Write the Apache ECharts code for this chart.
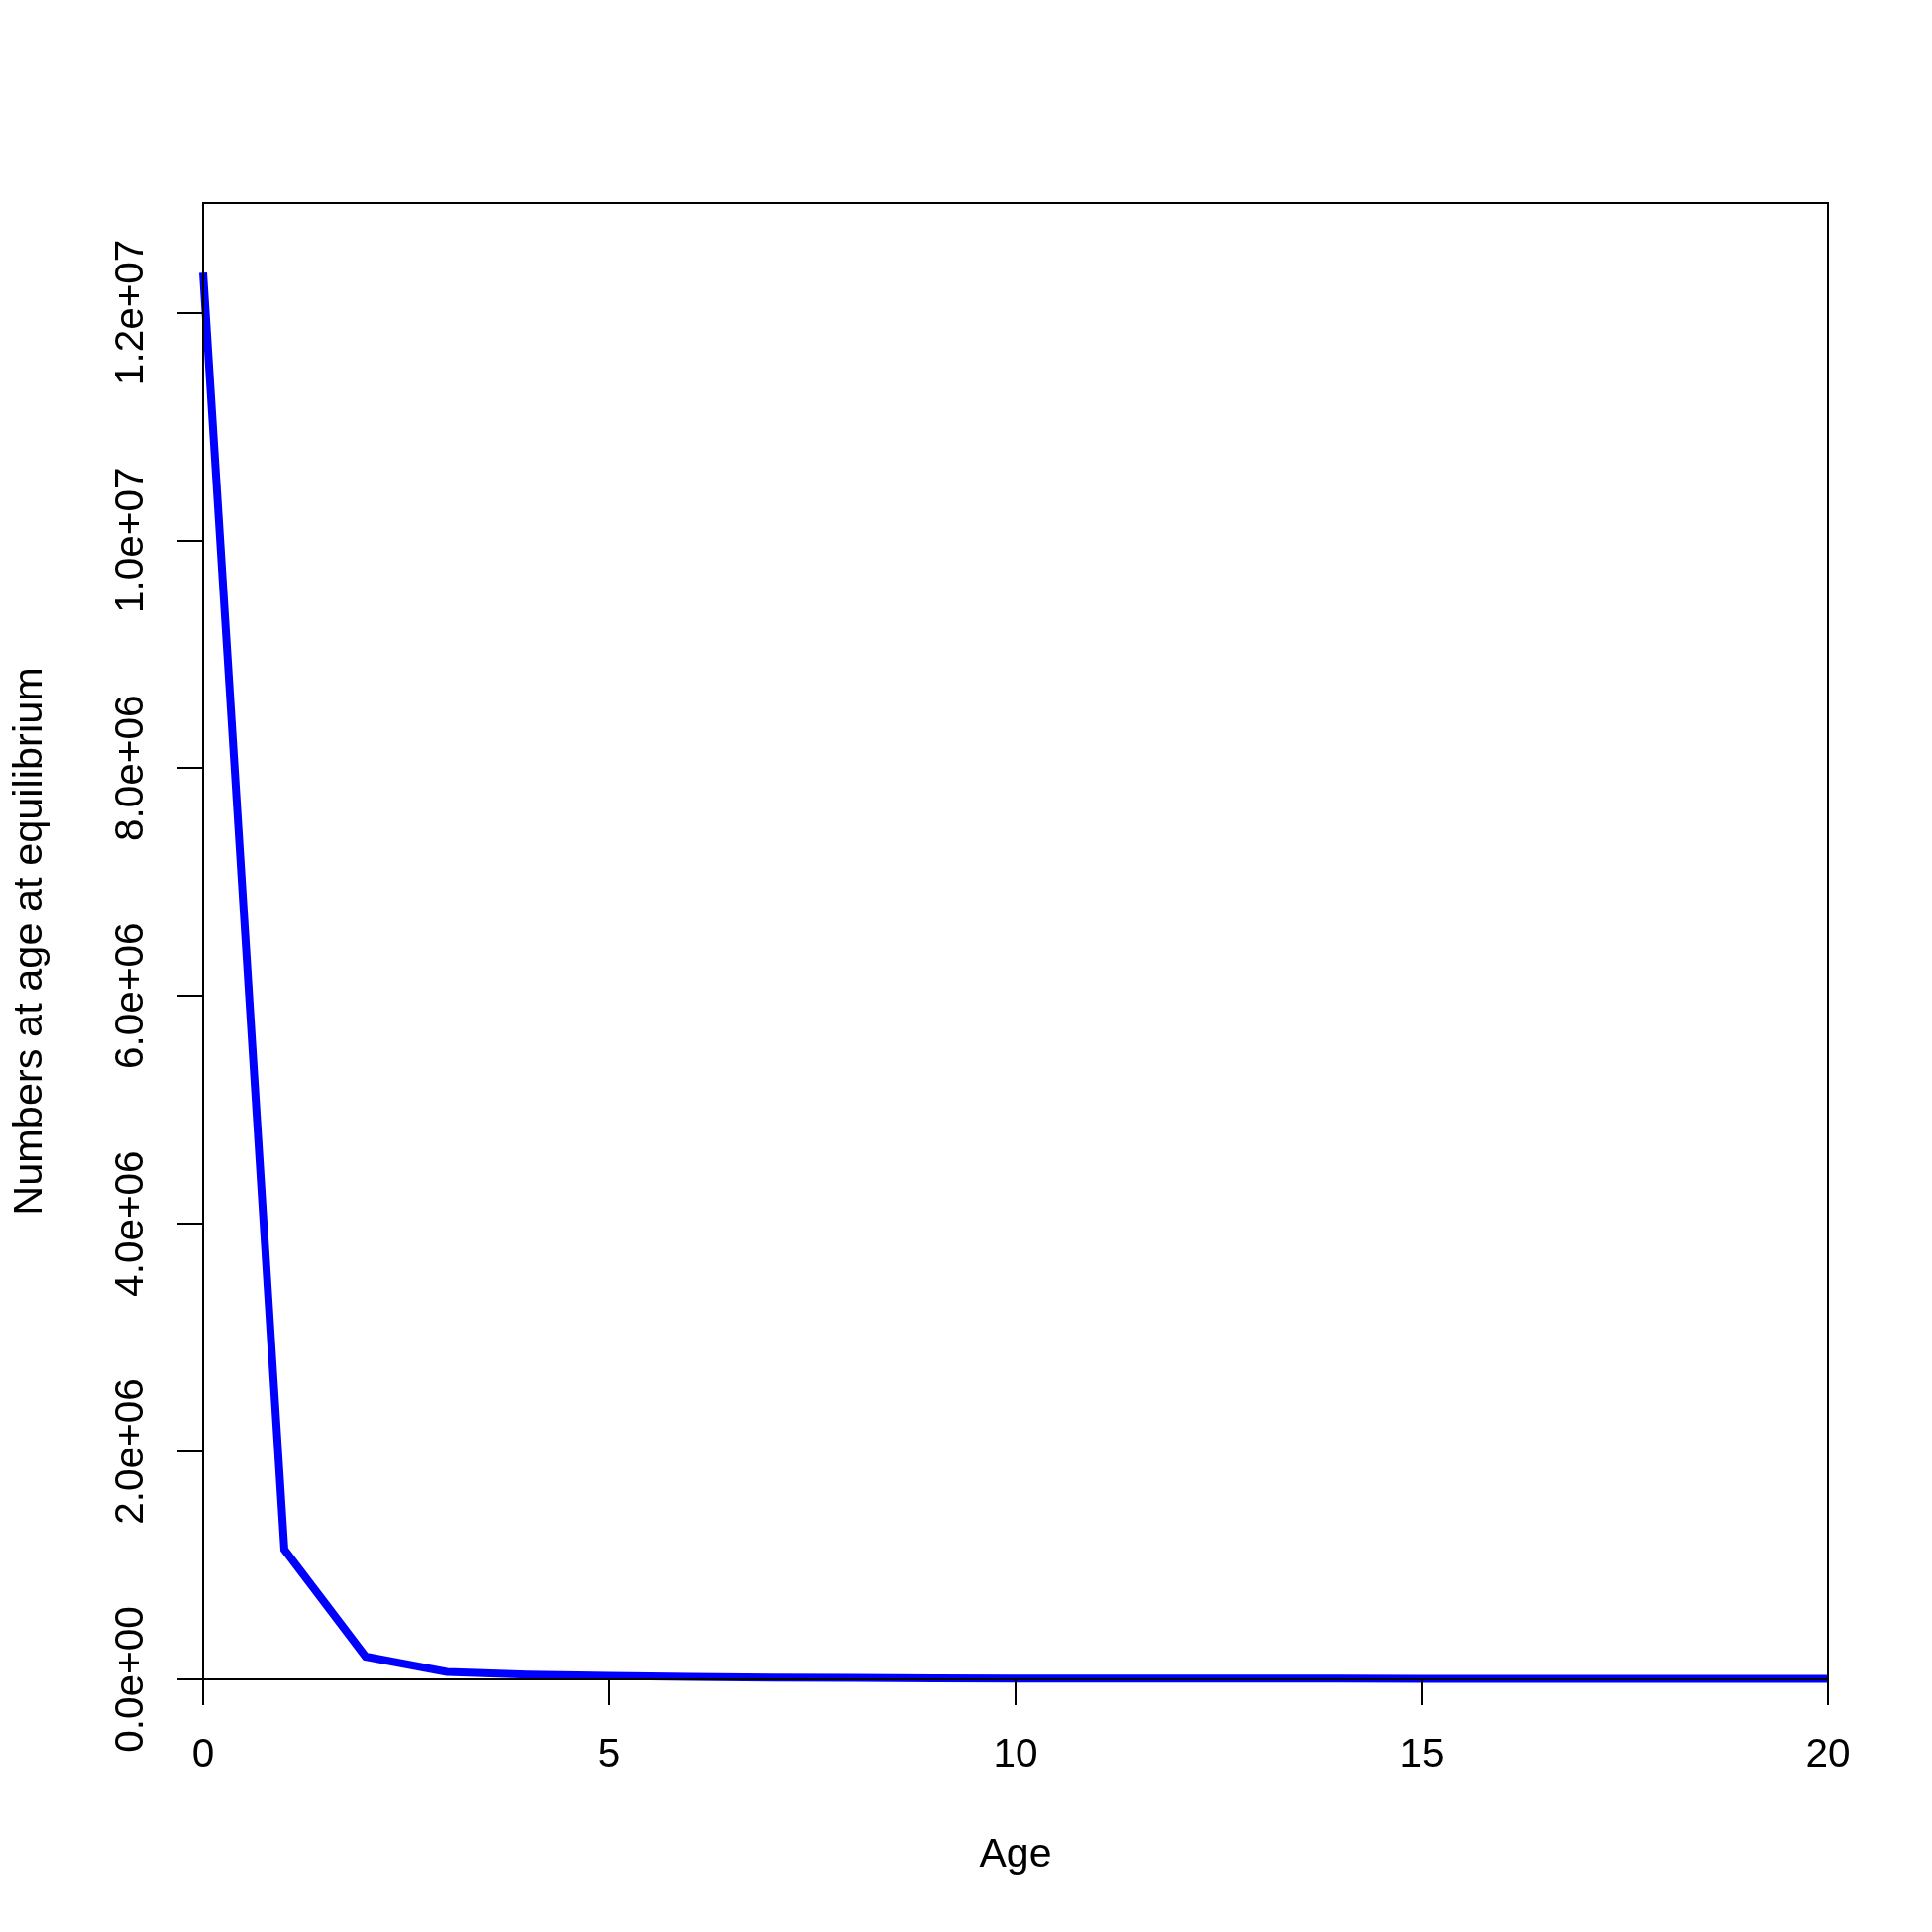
<!DOCTYPE html>
<html>
<head>
<meta charset="utf-8">
<script src="https://cdn.jsdelivr.net/npm/echarts@6/dist/echarts.min.js"></script>
<style>
html,body{margin:0;padding:0;background:#fff;}
#chart{width:1950px;height:1950px;}
</style>
</head>
<body>
<div id="chart"></div>
<script>
var ages = [0,1,2,3,4,5,6,7,8,9,10,11,12,13,14,15,16,17,18,19,20];
var numbers = [12350000,1140000,200000,65000,42000,30000,22000,16000,12000,9000,7000,6500,6000,5800,5600,5400,5200,5100,5000,5000,5000];
var yTicks = [0,2000000,4000000,6000000,8000000,10000000,12000000];
var xTicks = [0,5,10,15,20];
var xTitle = 'Age';
var yTitle = 'Numbers at age at equilibrium';

function rExp(v){
  var s = v.toExponential(1);
  var m = s.match(/^(-?[\d.]+)e([+-])(\d+)$/);
  var e = m[3].length < 2 ? '0' + m[3] : m[3];
  return m[1] + 'e' + m[2] + e;
}

var font = 'Liberation Sans, Arial, Helvetica, sans-serif';
var chart = echarts.init(document.getElementById('chart'), null, {renderer:'canvas'});
chart.setOption({
  backgroundColor:'#ffffff',
  animation:false,
  grid:{left:205, top:205, right:105, bottom:255, show:true, borderColor:'#000', borderWidth:2, backgroundColor:'transparent', z:3},
  xAxis:{
    type:'value', min:0, max:20, interval:5, z:3,
    name:xTitle, nameLocation:'middle', nameGap:157,
    nameTextStyle:{fontFamily:font, fontSize:41, color:'#000'},
    axisLine:{show:true, onZero:false, lineStyle:{color:'#000', width:2}},
    axisTick:{show:true, length:26, lineStyle:{color:'#000', width:2}, customValues:xTicks},
    axisLabel:{fontFamily:font, fontSize:40.5, color:'#000', margin:56, customValues:xTicks, showMinLabel:true, showMaxLabel:true},
    splitLine:{show:false}
  },
  yAxis:{
    type:'value', min:0, max:12960000, interval:2000000, z:3,
    name:yTitle, nameLocation:'middle', nameGap:153, nameRotate:90,
    nameTextStyle:{fontFamily:font, fontSize:41.5, color:'#000'},
    axisLine:{show:true, onZero:false, lineStyle:{color:'#000', width:2}},
    axisTick:{show:true, length:26, lineStyle:{color:'#000', width:2}, customValues:yTicks},
    axisLabel:{fontFamily:font, fontSize:40.5, color:'#000', margin:52, rotate:90, customValues:yTicks, formatter:function(v){return rExp(v);}},
    splitLine:{show:false}
  },
  series:[{
    type:'line',
    data:ages.map(function(a,i){return [a, numbers[i]];}),
    showSymbol:false, symbol:'none', smooth:false,
    lineStyle:{color:'#0000ff', width:8, cap:'butt', join:'miter'},
    itemStyle:{color:'#0000ff'},
    z:1
  }]
});
</script>
</body>
</html>
